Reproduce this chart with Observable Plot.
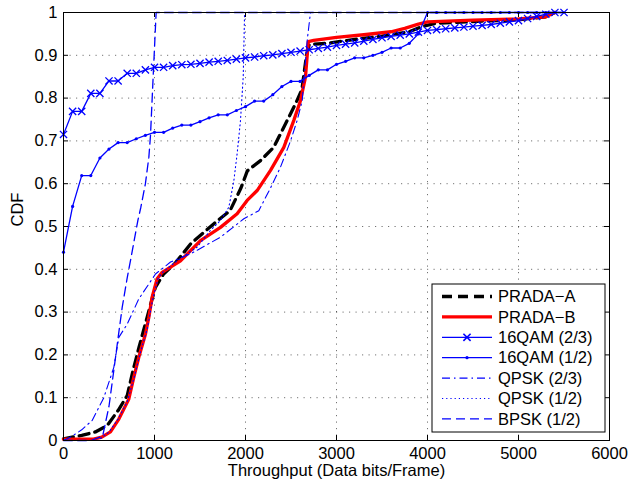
<!DOCTYPE html>
<html><head><meta charset="utf-8">
<script src="https://cdn.jsdelivr.net/npm/d3@7"></script>
<script src="https://cdn.jsdelivr.net/npm/@observablehq/plot@0.6"></script>
<style>
body{margin:0;background:#fff;}
#chart{width:643px;height:483px;}
</style></head><body><div id="chart"></div>
<script>
const xTicks = [0, 1000, 2000, 3000, 4000, 5000, 6000];
const yTicks = [0, 0.1, 0.2, 0.3, 0.4, 0.5, 0.6, 0.7, 0.8, 0.9, 1];
const seriesNames = ["PRADA\u2212A", "PRADA\u2212B", "16QAM (2/3)", "16QAM (1/2)", "QPSK (2/3)", "QPSK (1/2)", "BPSK (1/2)"];
const xLabel = "Throughput (Data bits/Frame)";
const yLabel = "CDF";

const pradaA = [[0,0.004],[200,0.012],[350,0.02],[480,0.035],[600,0.07],[700,0.105],[760,0.16],[830,0.218],[900,0.273],[960,0.32],[1010,0.358],[1100,0.389],[1230,0.415],[1400,0.46],[1650,0.506],[1830,0.537],[1950,0.59],[2020,0.63],[2165,0.654],[2310,0.685],[2440,0.74],[2550,0.787],[2620,0.82],[2670,0.9],[2700,0.925],[2900,0.928],[3200,0.937],[3500,0.945],[3800,0.955],[3950,0.968],[4100,0.975],[4600,0.98],[5000,0.983],[5300,0.99],[5400,1.0]];
const pradaB = [[0,0.003],[330,0.003],[420,0.008],[516,0.02],[608,0.05],[718,0.097],[773,0.148],[828,0.195],[901,0.249],[938,0.288],[974,0.335],[1029,0.378],[1084,0.393],[1176,0.405],[1286,0.42],[1505,0.467],[1725,0.498],[1908,0.53],[2018,0.561],[2128,0.584],[2275,0.631],[2421,0.685],[2531,0.748],[2604,0.794],[2659,0.849],[2690,0.932],[2750,0.935],[3000,0.942],[3300,0.948],[3600,0.955],[3750,0.963],[3900,0.973],[4000,0.978],[4500,0.982],[5000,0.985],[5300,0.99],[5400,1.0]];
const qam23 = [[0,0.715],[100,0.769],[200,0.769],[300,0.811],[400,0.811],[500,0.84],[600,0.84],[700,0.858],[800,0.858],[900,0.866],[1000,0.872],[1100,0.872],[1200,0.876],[1300,0.878],[1400,0.879],[1500,0.881],[1600,0.884],[1700,0.886],[1800,0.888],[1900,0.891],[2000,0.894],[2100,0.896],[2200,0.899],[2300,0.901],[2400,0.904],[2500,0.907],[2600,0.91],[2700,0.913],[2800,0.916],[2900,0.919],[3000,0.923],[3100,0.926],[3200,0.929],[3300,0.933],[3400,0.937],[3500,0.941],[3600,0.944],[3700,0.947],[3800,0.95],[3900,0.954],[4000,0.958],[4100,0.96],[4200,0.962],[4300,0.964],[4400,0.966],[4500,0.968],[4600,0.97],[4700,0.972],[4800,0.975],[4900,0.978],[5000,0.981],[5100,0.986],[5200,0.991],[5300,0.996],[5400,1.0],[5500,1.0]];
const qam12 = [[0,0.44],[100,0.547],[200,0.619],[300,0.619],[400,0.66],[500,0.681],[600,0.696],[700,0.696],[800,0.705],[900,0.713],[1000,0.72],[1100,0.72],[1200,0.73],[1300,0.737],[1400,0.737],[1500,0.745],[1600,0.754],[1700,0.761],[1800,0.761],[1900,0.771],[2000,0.78],[2100,0.793],[2200,0.793],[2300,0.808],[2400,0.827],[2500,0.839],[2600,0.839],[2700,0.853],[2800,0.866],[2900,0.866],[3000,0.879],[3100,0.886],[3200,0.894],[3300,0.894],[3400,0.9],[3500,0.907],[3600,0.917],[3700,0.917],[3800,0.928],[3900,0.95],[4000,1.0],[4100,1.0],[4200,1.0],[4300,1.0],[4400,1.0],[4500,1.0],[4600,1.0],[4700,1.0],[4800,1.0],[4900,1.0],[5000,1.0],[5100,1.0],[5200,1.0],[5300,1.0],[5400,1.0]];
const qpsk23 = [[0,0],[80,0.008],[200,0.025],[315,0.047],[443,0.1],[553,0.171],[608,0.241],[700,0.272],[828,0.331],[1011,0.389],[1176,0.417],[1396,0.436],[1725,0.475],[1982,0.518],[2146,0.537],[2275,0.59],[2385,0.639],[2495,0.7],[2568,0.748],[2623,0.794],[2678,0.935],[2714,1.0],[5500,1.0]];
const qpsk12 = [[0,0],[380,0],[500,0.02],[600,0.05],[700,0.09],[780,0.15],[850,0.21],[920,0.26],[980,0.33],[1040,0.38],[1100,0.395],[1250,0.42],[1470,0.452],[1615,0.491],[1725,0.514],[1817,0.545],[1872,0.607],[1908,0.67],[1945,0.748],[1975,0.85],[1990,1.0],[5500,1.0]];
const bpsk12 = [[0,0],[300,0],[430,0.01],[500,0.08],[553,0.164],[600,0.24],[645,0.311],[700,0.38],[736,0.42],[817,0.514],[850,0.545],[900,0.6],[938,0.662],[956,0.713],[985,0.849],[1018,1.0],[5500,1.0]];

const W = 643, H = 483;
const mL = 63, mR = 34, mT = 12, mB = 43;
const PW = W - mL - mR, PH = H - mT - mB;
const BLUE = "#0000ff";
const FONT = "'Liberation Sans', Arial, Helvetica, sans-serif";

const timesSymbol = {
  draw(ctx, size) {
    const s = Math.sqrt(size / Math.PI);
    ctx.moveTo(-s, -s); ctx.lineTo(s, s);
    ctx.moveTo(-s, s); ctx.lineTo(s, -s);
  }
};

const styles = [
  {data: pradaA, stroke: "#000", strokeWidth: 3.3, dash: "10,6"},
  {data: pradaB, stroke: "#ff0000", strokeWidth: 3.3, dash: null},
  {data: qam23, stroke: BLUE, strokeWidth: 1.3, dash: null, marker: "x"},
  {data: qam12, stroke: BLUE, strokeWidth: 1.3, dash: null, marker: "."},
  {data: qpsk23, stroke: BLUE, strokeWidth: 1.1, dash: "8,4,1.5,4"},
  {data: qpsk12, stroke: BLUE, strokeWidth: 1.1, dash: "1.2,3"},
  {data: bpsk12, stroke: BLUE, strokeWidth: 1.3, dash: "9,5"}
];

const lineMarks = [];
for (const s of styles) {
  lineMarks.push(Plot.line(s.data, {x: d => d[0], y: d => d[1], stroke: s.stroke, strokeWidth: s.strokeWidth, strokeDasharray: s.dash, strokeLinejoin: "round"}));
  if (s.marker === "x") lineMarks.push(Plot.dot(s.data, {x: d => d[0], y: d => d[1], symbol: timesSymbol, r: 3.6, stroke: s.stroke, strokeWidth: 1.3, fill: "none"}));
  if (s.marker === ".") lineMarks.push(Plot.dot(s.data, {x: d => d[0], y: d => d[1], r: 1.6, fill: s.stroke, stroke: "none"}));
}

const gridStyle = {stroke: "#000", strokeOpacity: 0.55, strokeWidth: 1, strokeDasharray: "1.2,5.3"};

const plot = Plot.plot({
  width: W, height: H,
  marginLeft: mL, marginRight: mR, marginTop: mT, marginBottom: mB,
  style: {fontFamily: FONT, fontSize: "16.5px", color: "#000", background: "#fff"},
  x: {domain: [0, 6000], ticks: xTicks},
  y: {domain: [0, 1], ticks: yTicks},
  marks: [
    Plot.ruleX(xTicks.slice(1, -1), gridStyle),
    Plot.ruleY(yTicks.slice(1, -1), gridStyle),
    ...lineMarks,
    Plot.frame({stroke: "#000", strokeWidth: 1}),
    Plot.ruleX(xTicks, {stroke: "#000", insetTop: PH - 5}),
    Plot.ruleX(xTicks, {stroke: "#000", insetBottom: PH - 5}),
    Plot.ruleY(yTicks, {stroke: "#000", insetRight: PW - 5}),
    Plot.ruleY(yTicks, {stroke: "#000", insetLeft: PW - 5}),
    Plot.axisX({ticks: xTicks, tickSize: 0, tickPadding: 7, label: null, tickFormat: d => String(d)}),
    Plot.axisY({ticks: yTicks, tickSize: 0, tickPadding: 6, label: null, tickFormat: d => String(+d.toFixed(1))}),
    Plot.text([xLabel], {frameAnchor: "bottom", dy: 35, text: d => d, fill: "#000"}),
    Plot.text([yLabel], {frameAnchor: "left", dx: -46, rotate: -90, text: d => d, fill: "#000"})
  ]
});
document.getElementById("chart").appendChild(plot);

// Legend (drawn in pixel space inside the plot SVG)
const svg = d3.select(plot);
const lg = svg.append("g").attr("font-family", FONT).attr("font-size", "16.5px").attr("text-anchor", "start");
const bx = 432, by = 284, bw = 173, bh = 148;
lg.append("rect").attr("x", bx).attr("y", by).attr("width", bw).attr("height", bh)
  .attr("fill", "#fff").attr("stroke", "#000").attr("stroke-width", 1);
const rowY0 = by + 12.5, rowStep = 20.4;
styles.forEach((s, i) => {
  const y = rowY0 + i * rowStep;
  lg.append("line").attr("x1", bx + 10).attr("x2", bx + 60).attr("y1", y).attr("y2", y)
    .attr("stroke", s.stroke).attr("stroke-width", s.strokeWidth)
    .attr("stroke-dasharray", s.dash || null);
  if (s.marker === "x") {
    const cx = bx + 35, r = 3.6;
    lg.append("path").attr("d", `M${cx - r},${y - r}L${cx + r},${y + r}M${cx - r},${y + r}L${cx + r},${y - r}`)
      .attr("stroke", s.stroke).attr("stroke-width", 1.6).attr("fill", "none");
  }
  if (s.marker === ".") {
    lg.append("circle").attr("cx", bx + 35).attr("cy", y).attr("r", 1.6).attr("fill", s.stroke);
  }
  lg.append("text").attr("x", bx + 66).attr("y", y).attr("dy", "0.35em").attr("text-anchor", "start").attr("fill", "#000").text(seriesNames[i]);
});
</script>
</body></html>
